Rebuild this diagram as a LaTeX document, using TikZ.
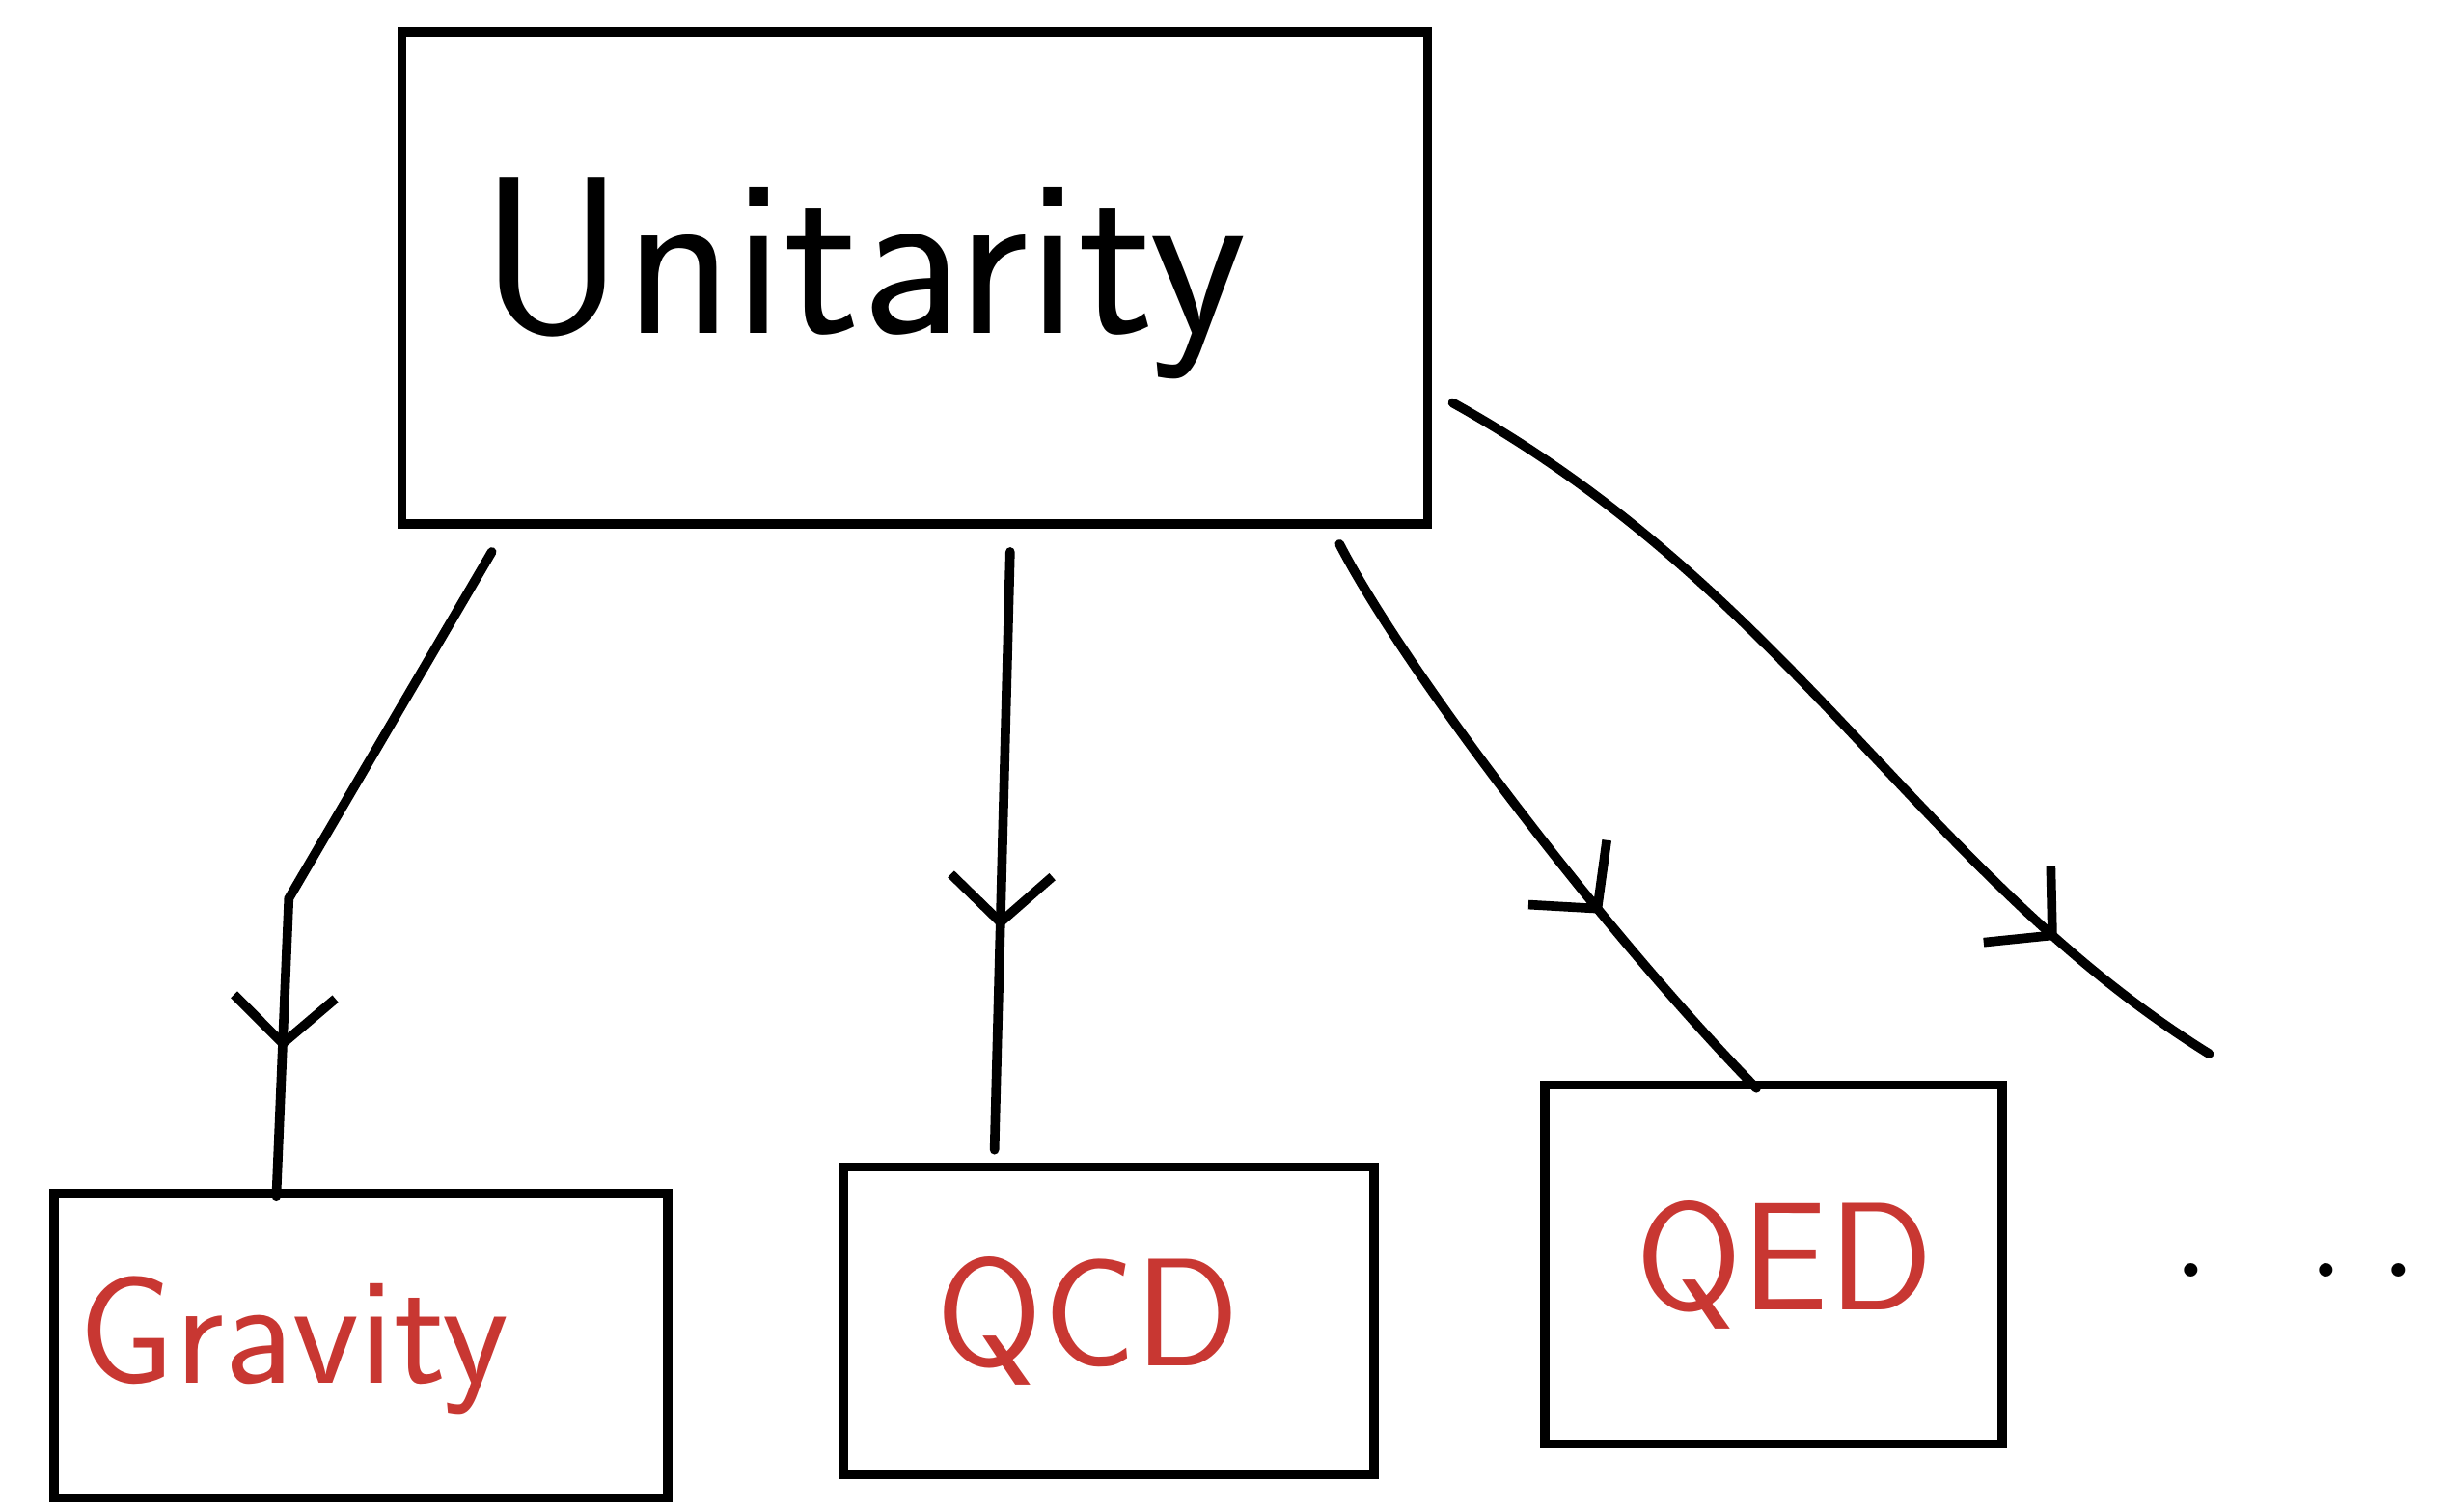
\documentclass[tikz,border=0pt]{standalone}
\usetikzlibrary{arrows.meta, calc, decorations.markings}
\definecolor{inkred}{RGB}{200,55,50}

\begin{document}
\begin{tikzpicture}[
    x=0.1mm, y=-0.1mm,
    sketchbox/.style={rectangle, draw=black, line width=1.7pt, inner sep=0pt, font=\sffamily},
    redlabel/.style={sketchbox, text=inkred, font=\sffamily\fontsize{28}{32}\selectfont},
    flow/.style={line width=1.7pt, line cap=round, postaction={decorate},
        decoration={markings, mark=at position #1 with {\arrow{Straight Barb[length=3mm, width=6.5mm, line width=1.7pt]}}}}
]
\useasboundingbox (0,0) rectangle (1568,968);

\node[sketchbox, minimum width=65.7mm, minimum height=31.5mm, font=\sffamily\fontsize{41}{48}\selectfont] (uni) at (586,178) {\hspace*{-6.6mm}Unitarity};
\node[redlabel, minimum width=39.3mm, minimum height=19.5mm] (grav) at (231,862) {\hspace*{-8.6mm}Gravity};
\node[redlabel, minimum width=34mm, minimum height=19.7mm] (qcd) at (710,846) {\hspace*{-2.6mm}QCD};
\node[redlabel, minimum width=29.3mm, minimum height=23mm] (qed) at (1136,810) {\hspace*{1.4mm}QED};
\node[anchor=base, font=\fontsize{30}{36}\selectfont] (more) at (1470,818) {.\hspace{6mm}.\hspace{2mm}.};
\coordinate (tail) at (1415,675);

\draw[flow=0.79] ($(uni.south)+(-271,15)$) -- ++(-130,222) -- ($(grav.north)+(-54,5)$);
\draw[flow=0.63] ($(uni.south)+(61,15)$) -- ($(qcd.north)+(-73,-8)$);
\draw[flow=0.66] ($(uni.south)+(272,10)$) .. controls (900,430) and (1030,600) .. ($(qed.north)+(-11,5)$);
\draw[flow=0.81] ($(uni.east)+(13,80)$) .. controls (1150,380) and (1230,560) .. (tail);
\end{tikzpicture}
\end{document}
